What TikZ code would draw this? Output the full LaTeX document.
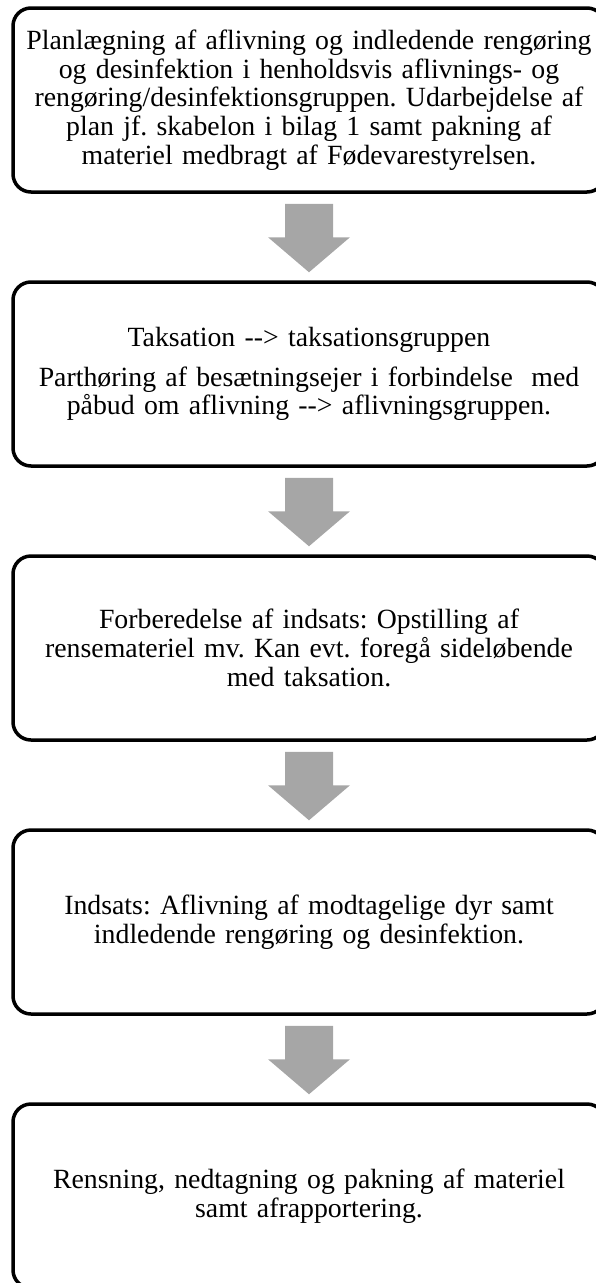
\documentclass[tikz,border=0pt]{standalone}
\usepackage{fontspec}
\setmainfont{Liberation Serif}
\usepackage{tikz}
\usetikzlibrary{calc,positioning}
\definecolor{arrowgray}{HTML}{A6A6A6}
\frenchspacing
\begin{document}
\begin{tikzpicture}[x=1pt,y=1pt,
  stepbox/.style={draw,line width=3.5pt,rounded corners=18pt,minimum width=592pt,minimum height=184pt,
    text width=570pt,align=center,inner sep=4pt,font=\fontsize{27.8}{28.7}\selectfont},
  node distance=86.5pt]
\useasboundingbox(0,0)rectangle(596,-1283);\clip(0,0)rectangle(596,-1283);
\node[stepbox](plan)at(309,-100){Planlægning af aflivning og indledende rengøring\\og desinfektion i henholdsvis aflivnings- og\\rengøring/desinfektionsgruppen. Udarbejdelse af\\plan jf. skabelon i bilag 1 samt pakning af\\materiel medbragt af Fødevarestyrelsen.};
\node[stepbox,below=of plan](takst){Taksation -{}-> taksationsgruppen\\[11pt]Parthøring af besætningsejer i forbindelse\ \ med\\påbud om aflivning -{}-> aflivningsgruppen.};
\node[stepbox,below=of takst](forb){Forberedelse af indsats: Opstilling af\\rensemateriel mv. Kan evt. foregå sideløbende\\med taksation.};
\node[stepbox,below=of forb](indsats){Indsats: Aflivning af modtagelige dyr samt\\indledende rengøring og desinfektion.};
\node[stepbox,below=of indsats](rens){Rensning, nedtagning og pakning af materiel\\samt afrapportering.};
% fat gray arrows between the steps
\foreach \a/\b in {plan/takst,takst/forb,forb/indsats,indsats/rens}
  \fill[arrowgray]($(\a.south)+(-24,-10)$)--($(\a.south)+(24,-10)$)--($(\b.north)+(24,43)$)--($(\b.north)+(41,43)$)
    --($(\b.north)+(0,8)$)--($(\b.north)+(-41,43)$)--($(\b.north)+(-24,43)$)--cycle;
\end{tikzpicture}
\end{document}
